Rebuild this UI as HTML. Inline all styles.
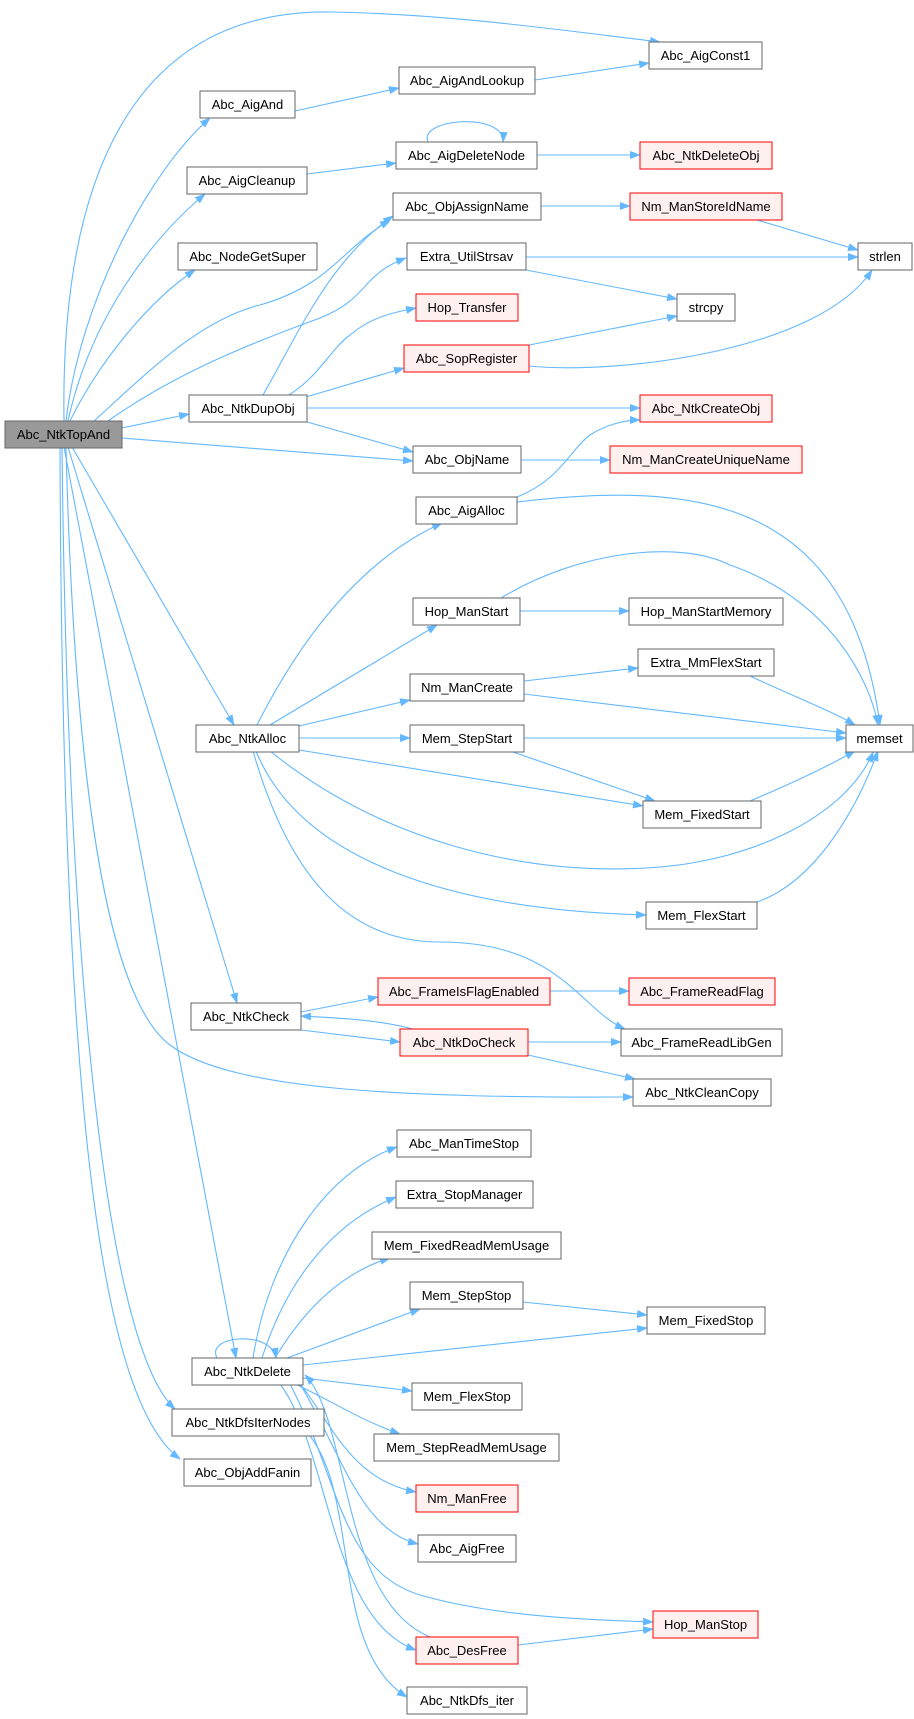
<!DOCTYPE html>
<html><head><meta charset="utf-8"><style>
html,body{margin:0;padding:0;background:#fff}
svg{display:block}
text{font-family:"Liberation Sans",Arial,sans-serif;font-size:13px;fill:#000}
.e{fill:none;stroke:#63b8ff;stroke-width:1.1}
.n rect{fill:#fff;stroke:#666;stroke-width:1}
.n.r rect{fill:#fff0f0;stroke:#f00}
.n.g rect{fill:#999;stroke:#666}
</style></head><body>
<svg width="914" height="1719" viewBox="0 0 914 1719" xmlns="http://www.w3.org/2000/svg">
<defs><marker id="a" markerWidth="11" markerHeight="8" refX="10" refY="4" orient="auto" markerUnits="userSpaceOnUse"><path d="M0,0 L11,4 L0,8 z" fill="#63b8ff"/></marker></defs>
<g class="e" marker-end="url(#a)">
<path d="M64,421 C60,150 150,10 330,12 C450,14 560,30 660,42"/>
<path d="M66,421 C80,300 150,170 210,118"/>
<path d="M68,421 C90,320 150,240 205,194"/>
<path d="M70,421 C100,360 150,300 195,270"/>
<path d="M94,421 C150,370 200,320 260,305 C330,285 340,250 390,220"/>
<path d="M108,421 C180,370 260,340 320,318 C370,298 360,275 406,258"/>
<path d="M122,428 L189,414"/>
<path d="M122,438 L413,461"/>
<path d="M72,447 L234,725"/>
<path d="M68,447 L237,1003"/>
<path d="M66,447 C75,800 110,1000 170,1045 C230,1090 400,1098 633,1097"/>
<path d="M64,447 L236,1358"/>
<path d="M62,447 C68,1000 110,1350 175,1409"/>
<path d="M60,447 C62,1100 100,1400 180,1459"/>
<path d="M263,395 C300,330 330,260 393,216"/>
<path d="M289,395 C320,375 330,350 350,335 C370,318 390,313 416,308"/>
<path d="M306,397 L404,368"/>
<path d="M307,408 L640,408"/>
<path d="M307,422 L413,452"/>
<path d="M295,111 L399,88"/>
<path d="M535,80 L649,63"/>
<path d="M307,174 L396,163"/>
<path d="M428,142 C418,118 505,112 503,142"/>
<path d="M537,155 L640,155"/>
<path d="M541,206 L630,206"/>
<path d="M757,220 L858,250"/>
<path d="M526,257 L858,257"/>
<path d="M526,270 L677,299"/>
<path d="M529,345 L677,316"/>
<path d="M529,366 C620,375 820,350 872,270"/>
<path d="M521,460 L610,460"/>
<path d="M517,497 C560,480 570,450 590,435 C605,425 625,420 640,420"/>
<path d="M517,502 C700,480 850,500 880,725"/>
<path d="M501,598 C580,550 680,540 730,565 C830,600 870,680 878,725"/>
<path d="M520,611 L629,611"/>
<path d="M524,681 L638,668"/>
<path d="M524,694 L846,733"/>
<path d="M750,676 C790,695 830,710 855,725"/>
<path d="M257,725 C300,640 360,560 442,523"/>
<path d="M270,725 L437,625"/>
<path d="M299,726 L410,700"/>
<path d="M299,738 L410,738"/>
<path d="M299,750 L643,806"/>
<path d="M270,751 C380,840 520,875 646,868 C760,862 850,810 873,752"/>
<path d="M256,751 C300,860 450,910 646,915"/>
<path d="M253,751 C290,880 350,942 440,942 C560,942 580,1010 625,1029"/>
<path d="M524,738 L846,738"/>
<path d="M510,751 L655,801"/>
<path d="M750,801 C800,780 830,765 855,751"/>
<path d="M757,902 C820,880 860,800 878,751"/>
<path d="M301,1012 L378,997"/>
<path d="M550,991 L629,991"/>
<path d="M301,1030 L400,1042"/>
<path d="M413,1029 C380,1020 340,1018 301,1016"/>
<path d="M528,1042 L621,1042"/>
<path d="M528,1055 L635,1079"/>
<path d="M217,1358 C205,1335 272,1330 276,1358"/>
<path d="M253,1358 C270,1250 330,1170 397,1147"/>
<path d="M262,1358 C290,1270 340,1220 396,1197"/>
<path d="M275,1358 C310,1300 350,1270 390,1258"/>
<path d="M287,1358 L420,1309"/>
<path d="M303,1365 L647,1328"/>
<path d="M303,1378 L412,1391"/>
<path d="M295,1384 C330,1400 360,1420 400,1434"/>
<path d="M300,1384 C330,1420 350,1480 416,1492"/>
<path d="M300,1384 C340,1450 360,1530 418,1544"/>
<path d="M290,1384 C340,1480 340,1570 420,1595 C500,1618 600,1620 653,1622"/>
<path d="M280,1384 C330,1450 330,1620 416,1650"/>
<path d="M430,1637 C340,1600 350,1420 305,1375"/>
<path d="M310,1436 C360,1500 330,1650 407,1697"/>
<path d="M523,1302 L647,1315"/>
<path d="M518,1645 L653,1629"/>
</g>
<g text-anchor="middle">
<g class="n g"><rect x="5" y="421" width="117" height="27"/><text x="63.5" y="439">Abc_NtkTopAnd</text></g>
<g class="n"><rect x="649" y="42" width="113" height="27"/><text x="705.5" y="60">Abc_AigConst1</text></g>
<g class="n"><rect x="399" y="67" width="136" height="27"/><text x="467" y="85">Abc_AigAndLookup</text></g>
<g class="n"><rect x="200" y="91" width="95" height="27"/><text x="247.5" y="109">Abc_AigAnd</text></g>
<g class="n"><rect x="396" y="142" width="141" height="27"/><text x="466.5" y="160">Abc_AigDeleteNode</text></g>
<g class="n r"><rect x="640" y="142" width="132" height="27"/><text x="706" y="160">Abc_NtkDeleteObj</text></g>
<g class="n"><rect x="187" y="167" width="120" height="27"/><text x="247" y="185">Abc_AigCleanup</text></g>
<g class="n"><rect x="393" y="193" width="148" height="27"/><text x="467" y="211">Abc_ObjAssignName</text></g>
<g class="n r"><rect x="630" y="193" width="152" height="27"/><text x="706" y="211">Nm_ManStoreIdName</text></g>
<g class="n"><rect x="178" y="243" width="139" height="27"/><text x="247.5" y="261">Abc_NodeGetSuper</text></g>
<g class="n"><rect x="407" y="243" width="119" height="27"/><text x="466.5" y="261">Extra_UtilStrsav</text></g>
<g class="n"><rect x="858" y="243" width="54" height="27"/><text x="885" y="261">strlen</text></g>
<g class="n r"><rect x="416" y="294" width="102" height="27"/><text x="467" y="312">Hop_Transfer</text></g>
<g class="n"><rect x="677" y="294" width="58" height="27"/><text x="706" y="312">strcpy</text></g>
<g class="n r"><rect x="404" y="345" width="125" height="27"/><text x="466.5" y="363">Abc_SopRegister</text></g>
<g class="n"><rect x="189" y="395" width="118" height="27"/><text x="248" y="413">Abc_NtkDupObj</text></g>
<g class="n r"><rect x="640" y="395" width="132" height="27"/><text x="706" y="413">Abc_NtkCreateObj</text></g>
<g class="n"><rect x="413" y="446" width="108" height="27"/><text x="467" y="464">Abc_ObjName</text></g>
<g class="n r"><rect x="610" y="446" width="192" height="27"/><text x="706" y="464">Nm_ManCreateUniqueName</text></g>
<g class="n"><rect x="416" y="497" width="101" height="27"/><text x="466.5" y="515">Abc_AigAlloc</text></g>
<g class="n"><rect x="413" y="598" width="107" height="27"/><text x="466.5" y="616">Hop_ManStart</text></g>
<g class="n"><rect x="629" y="598" width="154" height="27"/><text x="706" y="616">Hop_ManStartMemory</text></g>
<g class="n"><rect x="638" y="649" width="136" height="27"/><text x="706" y="667">Extra_MmFlexStart</text></g>
<g class="n"><rect x="410" y="674" width="114" height="27"/><text x="467" y="692">Nm_ManCreate</text></g>
<g class="n"><rect x="196" y="725" width="103" height="27"/><text x="247.5" y="743">Abc_NtkAlloc</text></g>
<g class="n"><rect x="410" y="725" width="114" height="27"/><text x="467" y="743">Mem_StepStart</text></g>
<g class="n"><rect x="846" y="725" width="67" height="27"/><text x="879.5" y="743">memset</text></g>
<g class="n"><rect x="643" y="801" width="118" height="27"/><text x="702" y="819">Mem_FixedStart</text></g>
<g class="n"><rect x="646" y="902" width="111" height="27"/><text x="701.5" y="920">Mem_FlexStart</text></g>
<g class="n r"><rect x="378" y="978" width="172" height="27"/><text x="464" y="996">Abc_FrameIsFlagEnabled</text></g>
<g class="n r"><rect x="629" y="978" width="146" height="27"/><text x="702" y="996">Abc_FrameReadFlag</text></g>
<g class="n"><rect x="191" y="1003" width="110" height="27"/><text x="246" y="1021">Abc_NtkCheck</text></g>
<g class="n r"><rect x="400" y="1029" width="128" height="27"/><text x="464" y="1047">Abc_NtkDoCheck</text></g>
<g class="n"><rect x="621" y="1029" width="161" height="27"/><text x="701.5" y="1047">Abc_FrameReadLibGen</text></g>
<g class="n"><rect x="633" y="1079" width="138" height="27"/><text x="702" y="1097">Abc_NtkCleanCopy</text></g>
<g class="n"><rect x="397" y="1130" width="134" height="27"/><text x="464" y="1148">Abc_ManTimeStop</text></g>
<g class="n"><rect x="396" y="1181" width="137" height="27"/><text x="464.5" y="1199">Extra_StopManager</text></g>
<g class="n"><rect x="372" y="1232" width="189" height="27"/><text x="466.5" y="1250">Mem_FixedReadMemUsage</text></g>
<g class="n"><rect x="410" y="1282" width="113" height="27"/><text x="466.5" y="1300">Mem_StepStop</text></g>
<g class="n"><rect x="647" y="1307" width="118" height="27"/><text x="706" y="1325">Mem_FixedStop</text></g>
<g class="n"><rect x="192" y="1358" width="111" height="27"/><text x="247.5" y="1376">Abc_NtkDelete</text></g>
<g class="n"><rect x="412" y="1383" width="110" height="27"/><text x="467" y="1401">Mem_FlexStop</text></g>
<g class="n"><rect x="172" y="1409" width="152" height="27"/><text x="248" y="1427">Abc_NtkDfsIterNodes</text></g>
<g class="n"><rect x="374" y="1434" width="185" height="27"/><text x="466.5" y="1452">Mem_StepReadMemUsage</text></g>
<g class="n"><rect x="184" y="1459" width="127" height="27"/><text x="247.5" y="1477">Abc_ObjAddFanin</text></g>
<g class="n r"><rect x="416" y="1485" width="102" height="27"/><text x="467" y="1503">Nm_ManFree</text></g>
<g class="n"><rect x="418" y="1535" width="98" height="27"/><text x="467" y="1553">Abc_AigFree</text></g>
<g class="n r"><rect x="653" y="1611" width="105" height="27"/><text x="705.5" y="1629">Hop_ManStop</text></g>
<g class="n r"><rect x="416" y="1637" width="102" height="27"/><text x="467" y="1655">Abc_DesFree</text></g>
<g class="n"><rect x="407" y="1687" width="120" height="27"/><text x="467" y="1705">Abc_NtkDfs_iter</text></g>
</g>
</svg>
</body></html>
